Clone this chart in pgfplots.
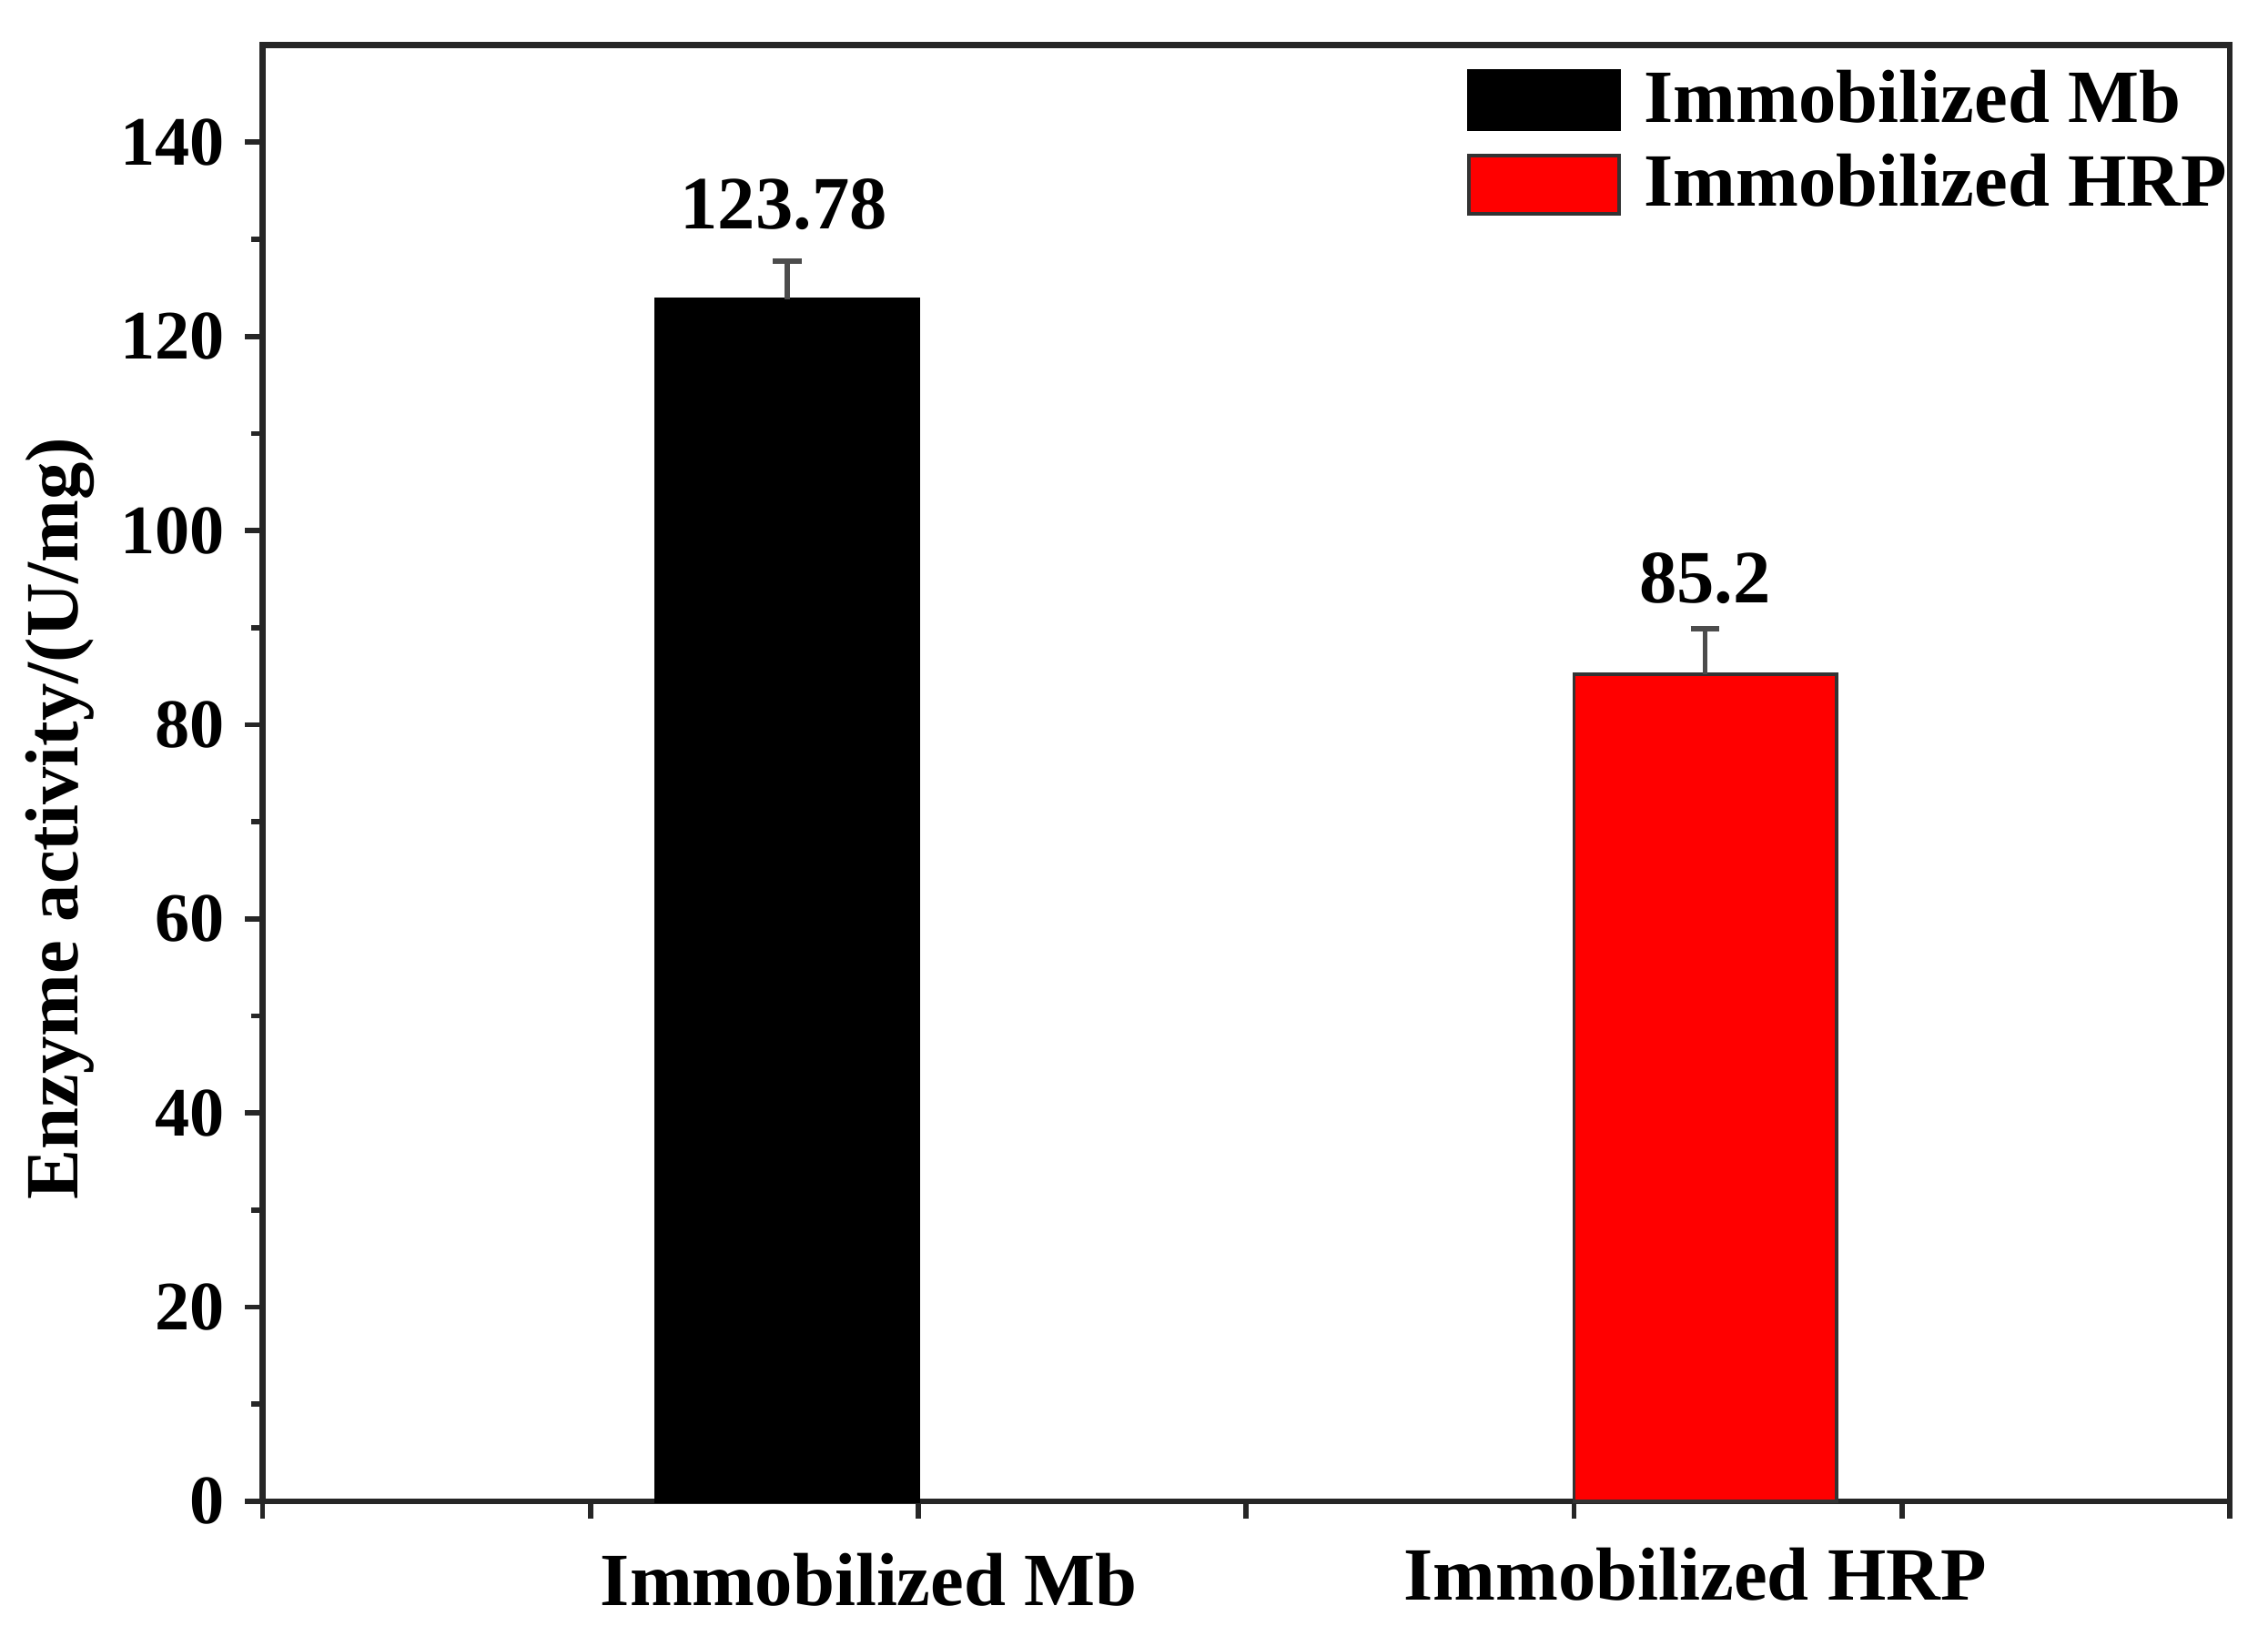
\documentclass[border=0pt]{standalone}
\usepackage{pgfplots}
\pgfplotsset{compat=1.18}
\usepackage{fontspec}
\setmainfont{Liberation Serif}

\begin{document}
\begin{tikzpicture}
\begin{axis}[
    scale only axis,
    width=340pt, height=251.75pt,
    xmin=0, xmax=6, ymin=0, ymax=150,
    clip=false,
    axis line style={line width=1pt, black!85},
    xtick={0,1,...,6}, xticklabels={},
    ytick={0,20,...,140},
    minor y tick num=1,
    tick align=outside,
    xtick pos=bottom, ytick pos=left,
    major tick length=3pt, minor tick length=2pt,
    tick style={line width=0.9pt, black!85},
    /pgf/number format/assume math mode=true,
    tick label style={font=\fontsize{12}{14}\selectfont\bfseries},
    every axis y label/.style={at={(axis description cs:-0.103,0.469)}, rotate=90, anchor=center},
    ylabel={Enzyme activity/(U/mg)},
    ylabel style={font=\fontsize{13}{15}\selectfont\bfseries},
    legend style={at={(0.603,0.992)}, anchor=north west, draw=none, fill=none,
        font=\fontsize{13}{15}\selectfont\bfseries, row sep=4pt,
        nodes={inner sep=0pt}},
    legend cell align=left,
    legend image code/.code={\draw[#1] (0pt,-5pt) rectangle (26pt,5pt);},
    legend columns=1,
]
\addplot[ybar, bar width=0.8, bar shift=0pt, fill=black, draw=black, line width=0.6pt,
    error bars/.cd, y dir=plus, y explicit,
    error bar style={line width=0.9pt, black!70}, error mark options={rotate=90, mark size=2.5pt, line width=0.9pt, black!70}]
    coordinates {(1.6,123.78) +- (0,4.0)};
\addlegendentry{\hspace{4pt}Immobilized Mb}
\addplot[ybar, bar width=0.8, bar shift=0pt, fill=red, draw=black!80, line width=0.6pt,
    error bars/.cd, y dir=plus, y explicit,
    error bar style={line width=0.9pt, black!70}, error mark options={rotate=90, mark size=2.5pt, line width=0.9pt, black!70}]
    coordinates {(4.4,85.2) +- (0,4.7)};
\addlegendentry{\hspace{4pt}Immobilized HRP}

\node[font=\fontsize{13}{15}\selectfont\bfseries] at (axis cs:1.59,133.6) {123.78};
\node[font=\fontsize{13}{15}\selectfont\bfseries] at (axis cs:4.40,95.1) {85.2};
\node[font=\fontsize{13}{15}\selectfont\bfseries] at (axis cs:1.85,-8.1) {Immobilized Mb};
\node[font=\fontsize{13}{15}\selectfont\bfseries] at (axis cs:4.37,-7.5) {Immobilized HRP};

\coordinate (bl) at (rel axis cs:-0.1335,-0.0800);
\coordinate (tr) at (rel axis cs:1.0195,1.0310);
\end{axis}
\path[use as bounding box] (bl) rectangle (tr);
\end{tikzpicture}
\end{document}
